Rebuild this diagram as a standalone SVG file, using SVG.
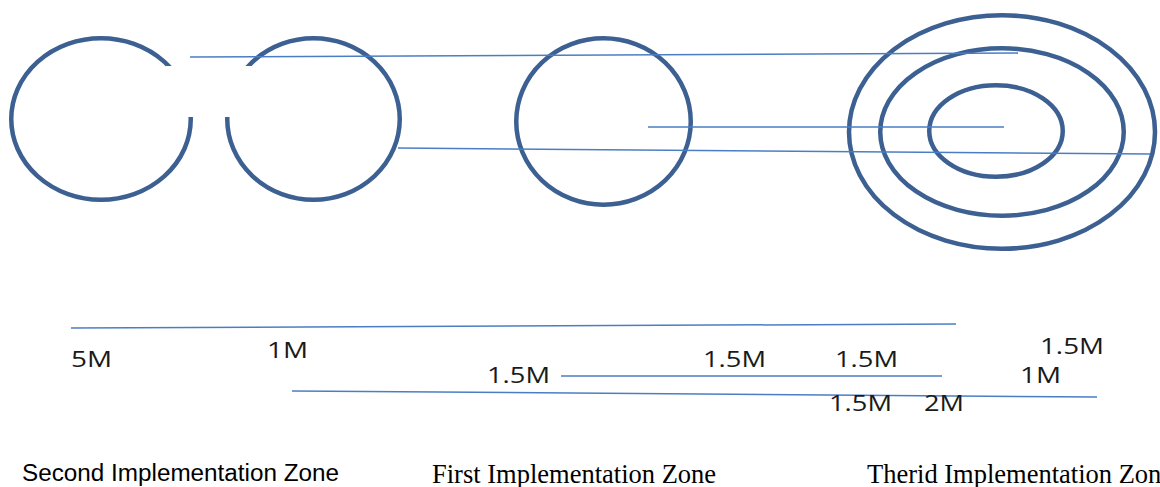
<svg xmlns="http://www.w3.org/2000/svg" width="1160" height="487" viewBox="0 0 1160 487">
<style>
.ring{fill:none;stroke:#3B6091;stroke-width:4.5}
.ln{stroke:#4A7EC4;stroke-width:1.5;fill:none}
.dim{font-family:"Open Sans","DejaVu Sans",sans-serif;font-size:22px;fill:#1a1a1a}
.zs{font-family:"Liberation Sans",Arial,sans-serif;font-size:23.5px;fill:#000}
.zt{font-family:"Liberation Serif","Times New Roman",serif;font-size:26.5px;fill:#000}
</style>
<rect width="1160" height="487" fill="#fff"/>
<g id="zone-second">
  <ellipse class="ring" cx="101" cy="119" rx="89.75" ry="80.75"/>
  <ellipse class="ring" cx="313.5" cy="119" rx="86.25" ry="80.75"/>
  <rect x="166" y="66" width="87" height="51" fill="#fff"/>
</g>
<g id="zone-first">
  <ellipse class="ring" cx="603.5" cy="121.5" rx="87.25" ry="83.25"/>
</g>
<g id="zone-third">
  <ellipse class="ring" cx="1002" cy="132" rx="153" ry="116.75"/>
  <ellipse class="ring" cx="1002" cy="132" rx="121.75" ry="83.75"/>
  <ellipse class="ring" cx="996" cy="131" rx="66.75" ry="45.75"/>
</g>
<g id="connectors">
  <line class="ln" x1="190" y1="57" x2="1018" y2="53"/>
  <line class="ln" x1="398" y1="148" x2="1150" y2="154"/>
  <line class="ln" x1="648" y1="127" x2="1004" y2="127"/>
  <line class="ln" x1="71" y1="328" x2="956" y2="324"/>
  <line class="ln" x1="561" y1="376" x2="942" y2="376"/>
  <line class="ln" x1="292" y1="391" x2="1097" y2="397"/>
</g>
<g id="labels">
  <text class="dim" x="71" y="367" textLength="41" lengthAdjust="spacingAndGlyphs">5M</text>
  <text class="dim" x="267" y="358" textLength="41" lengthAdjust="spacingAndGlyphs">1M</text>
  <text class="dim" x="487" y="383" textLength="63" lengthAdjust="spacingAndGlyphs">1.5M</text>
  <text class="dim" x="703" y="367" textLength="63" lengthAdjust="spacingAndGlyphs">1.5M</text>
  <text class="dim" x="835" y="367" textLength="63" lengthAdjust="spacingAndGlyphs">1.5M</text>
  <text class="dim" x="829" y="411" textLength="63" lengthAdjust="spacingAndGlyphs">1.5M</text>
  <text class="dim" x="924" y="411" textLength="40" lengthAdjust="spacingAndGlyphs">2M</text>
  <text class="dim" x="1040" y="354" textLength="64" lengthAdjust="spacingAndGlyphs">1.5M</text>
  <text class="dim" x="1020" y="383" textLength="41" lengthAdjust="spacingAndGlyphs">1M</text>
  <text class="zs" x="22" y="481" textLength="317" lengthAdjust="spacingAndGlyphs">Second Implementation Zone</text>
  <text class="zt" x="432" y="483">First Implementation Zone</text>
  <text class="zt" x="867" y="483">Therid Implementation Zone</text>
</g>
</svg>
